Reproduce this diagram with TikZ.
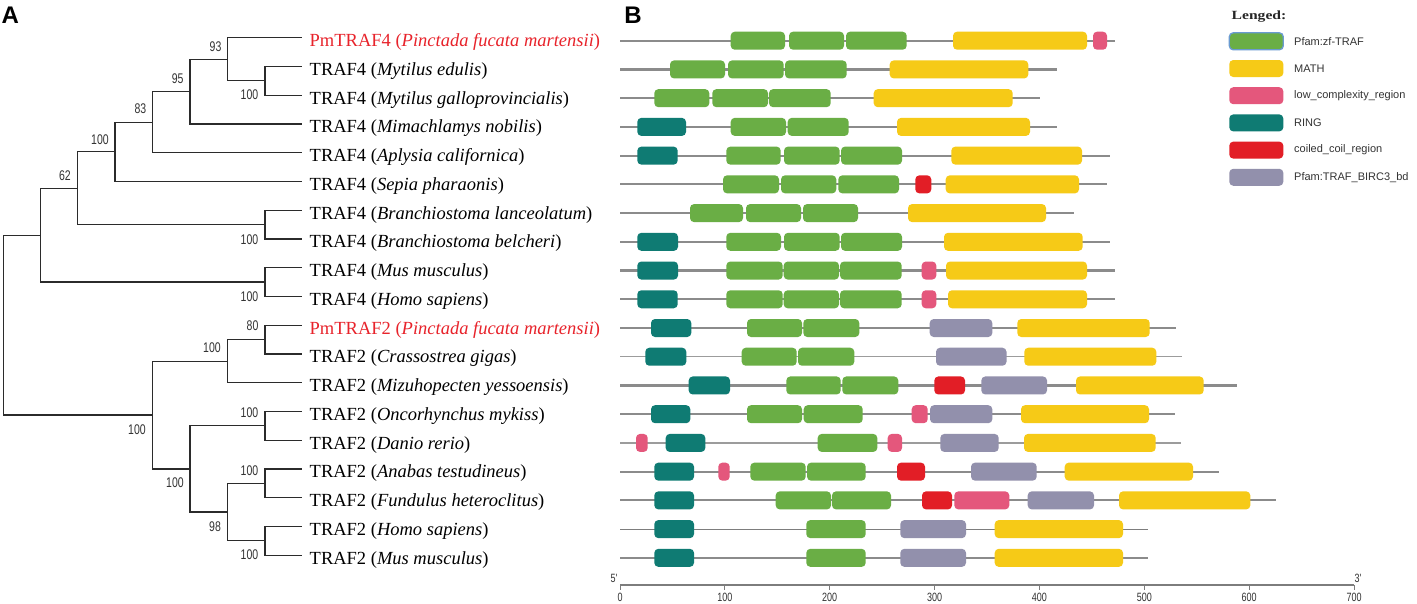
\documentclass[tikz,border=0pt]{standalone}
\usepackage{fontspec}
\setmainfont{Liberation Serif}
\newfontfamily\arialf{Liberation Sans}
\definecolor{zfc}{HTML}{6AAE45}
\definecolor{mathc}{HTML}{F6CA17}
\definecolor{lcrc}{HTML}{E4577C}
\definecolor{ringc}{HTML}{0F7B73}
\definecolor{ccc}{HTML}{E21E26}
\definecolor{birc}{HTML}{9290AC}
\definecolor{bbc}{HTML}{8B8B8B}
\definecolor{treec}{HTML}{2B2B2B}
\definecolor{labred}{HTML}{E8232B}
\definecolor{legblue}{HTML}{6A9BD1}
\definecolor{txtc}{HTML}{333333}
\newcommand\nar[1]{\scalebox{0.75}[1]{#1}}
\newcommand\dm[4]{\fill[#1,rounded corners=4pt] (#2,#4-9) rectangle (#3,#4+9);}
\newcommand\bbline[3][bbl]{\draw[#1] (620,#3) -- (#2,#3);}
\begin{document}
\begin{tikzpicture}[x=1pt,y=-1pt,
  tree/.style={draw=treec,line width=1.2pt},
  leaf/.style={anchor=west,inner xsep=7.5pt,inner ysep=0pt,text height=17.6pt,text depth=0pt,font=\fontsize{18.5}{20}\selectfont},
  supv/.style={inner sep=0pt,text=txtc,font=\arialf\fontsize{14}{14}\selectfont},
  bbl/.style={draw=bbc,line width=2.2pt},
  bbthin/.style={draw=bbc!85!white,line width=1.2pt},
  bbthind/.style={draw=bbc!90!black,line width=1.1pt},
  legbox/.style={minimum width=54pt,minimum height=17pt,rounded corners=4pt,inner sep=0pt},
  legtext/.style={anchor=west,inner sep=0pt,text=txtc,font=\arialf\fontsize{11}{11}\selectfont},
  axisl/.style={draw=bbc!90!black,line width=1.4pt},
  ticklab/.style={inner sep=0pt,text=txtc,font=\arialf\fontsize{12}{12}\selectfont},
  panel/.style={inner sep=0pt,font=\arialf\bfseries\fontsize{24}{24}\selectfont}
]
\useasboundingbox (0,0) rectangle (1417,603);
\fill[white] (0,0) rectangle (1417,603);

% panel labels
\node[panel] (pA) at (10.2,15.7) {A};
\node[panel] (pB) at (633,15) {B};

% leaves
\node[leaf] (l1) at (302,37.7) {\textcolor{labred}{PmTRAF4 (\textit{Pinctada fucata martensii})}};
\node[leaf] (l2) at (302,66.45) {TRAF4 (\textit{Mytilus edulis})};
\node[leaf] (l3) at (302,95.2) {TRAF4 (\textit{Mytilus galloprovincialis})};
\node[leaf] (l4) at (302,123.95) {TRAF4 (\textit{Mimachlamys nobilis})};
\node[leaf] (l5) at (302,152.7) {TRAF4 (\textit{Aplysia californica})};
\node[leaf] (l6) at (302,181.45) {TRAF4 (\textit{Sepia pharaonis})};
\node[leaf] (l7) at (302,210.2) {TRAF4 (\textit{Branchiostoma lanceolatum})};
\node[leaf] (l8) at (302,238.95) {TRAF4 (\textit{Branchiostoma belcheri})};
\node[leaf] (l9) at (302,267.7) {TRAF4 (\textit{Mus musculus})};
\node[leaf] (l10) at (302,296.45) {TRAF4 (\textit{Homo sapiens})};
\node[leaf] (l11) at (302,325.2) {\textcolor{labred}{PmTRAF2 (\textit{Pinctada fucata martensii})}};
\node[leaf] (l12) at (302,353.95) {TRAF2 (\textit{Crassostrea gigas})};
\node[leaf] (l13) at (302,382.7) {TRAF2 (\textit{Mizuhopecten yessoensis})};
\node[leaf] (l14) at (302,411.45) {TRAF2 (\textit{Oncorhynchus mykiss})};
\node[leaf] (l15) at (302,440.2) {TRAF2 (\textit{Danio rerio})};
\node[leaf] (l16) at (302,468.95) {TRAF2 (\textit{Anabas testudineus})};
\node[leaf] (l17) at (302,497.7) {TRAF2 (\textit{Fundulus heteroclitus})};
\node[leaf] (l18) at (302,526.45) {TRAF2 (\textit{Homo sapiens})};
\node[leaf] (l19) at (302,555.2) {TRAF2 (\textit{Mus musculus})};

% internal nodes
\coordinate (A) at (265,80.83);
\coordinate (B) at (227.7,59.26);
\coordinate (C) at (190,91.6);
\coordinate (D) at (152.3,122.15);
\coordinate (E) at (115,151.8);
\coordinate (F) at (265,224.58);
\coordinate (G) at (77.7,188.19);
\coordinate (H) at (265,282.08);
\coordinate (I) at (40.7,235.13);
\coordinate (J) at (265,339.58);
\coordinate (K) at (227.7,361.14);
\coordinate (L) at (265,425.83);
\coordinate (M) at (265,483.33);
\coordinate (N) at (265,540.83);
\coordinate (O) at (227.7,512.08);
\coordinate (P) at (190,468.95);
\coordinate (Q) at (152.3,415.05);
\coordinate (R) at (3.3,325.09);

\draw[tree] (R) |- (I);  \draw[tree] (R) |- (Q);
\draw[tree] (I) |- (G);  \draw[tree] (I) |- (H);
\draw[tree] (G) |- (E);  \draw[tree] (G) |- (F);
\draw[tree] (E) |- (D);  \draw[tree] (E) |- (l6.west);
\draw[tree] (D) |- (C);  \draw[tree] (D) |- (l5.west);
\draw[tree] (C) |- (B);  \draw[tree] (C) |- (l4.west);
\draw[tree] (B) |- (l1.west); \draw[tree] (B) |- (A);
\draw[tree] (A) |- (l2.west); \draw[tree] (A) |- (l3.west);
\draw[tree] (F) |- (l7.west); \draw[tree] (F) |- (l8.west);
\draw[tree] (H) |- (l9.west); \draw[tree] (H) |- (l10.west);
\draw[tree] (Q) |- (K);  \draw[tree] (Q) |- (P);
\draw[tree] (K) |- (J);  \draw[tree] (K) |- (l13.west);
\draw[tree] (J) |- (l11.west); \draw[tree] (J) |- (l12.west);
\draw[tree] (P) |- (L);  \draw[tree] (P) |- (O);
\draw[tree] (L) |- (l14.west); \draw[tree] (L) |- (l15.west);
\draw[tree] (O) |- (M);  \draw[tree] (O) |- (N);
\draw[tree] (M) |- (l16.west); \draw[tree] (M) |- (l17.west);
\draw[tree] (N) |- (l18.west); \draw[tree] (N) |- (l19.west);

% support values
\node[supv] (s1) at (215.5,47) {\nar{93}};
\node[supv] (s2) at (177.7,79) {\nar{95}};
\node[supv] (s3) at (140.5,108.7) {\nar{83}};
\node[supv] (s4) at (100,140) {\nar{100}};
\node[supv] (s5) at (65,175.3) {\nar{62}};
\node[supv] (s6) at (249.5,95) {\nar{100}};
\node[supv] (s7) at (249.5,240) {\nar{100}};
\node[supv] (s8) at (249.5,297) {\nar{100}};
\node[supv] (s9) at (252.5,326) {\nar{80}};
\node[supv] (s10) at (212,348) {\nar{100}};
\node[supv] (s11) at (249.5,412.8) {\nar{100}};
\node[supv] (s12) at (137,429.7) {\nar{100}};
\node[supv] (s13) at (249.5,470.3) {\nar{100}};
\node[supv] (s14) at (175,483) {\nar{100}};
\node[supv] (s15) at (215,527) {\nar{98}};
\node[supv] (s16) at (249.5,555) {\nar{100}};

% domain rows
% row 1
\bbline{1115}{40.7}
\dm{zfc}{730.7}{785}{40.7}\dm{zfc}{789}{844}{40.7}\dm{zfc}{846}{906.7}{40.7}
\dm{mathc}{953}{1087}{40.7}\dm{lcrc}{1093}{1107}{40.7}
% row 2
\bbline{1056.7}{69.43}
\dm{zfc}{670}{725}{69.43}\dm{zfc}{728}{783.7}{69.43}\dm{zfc}{785}{846.7}{69.43}
\dm{mathc}{889.7}{1028.3}{69.43}
% row 3
\bbline{1040}{98.16}
\dm{zfc}{654.3}{709.3}{98.16}\dm{zfc}{712.3}{768}{98.16}\dm{zfc}{769}{830.7}{98.16}
\dm{mathc}{873.7}{1012.7}{98.16}
% row 4
\bbline{1057}{126.89}
\dm{ringc}{637.3}{686}{126.89}
\dm{zfc}{730.7}{786}{126.89}\dm{zfc}{787.7}{848.7}{126.89}
\dm{mathc}{897}{1030}{126.89}
% row 5
\bbline{1109.7}{155.62}
\dm{ringc}{637.3}{677.7}{155.62}
\dm{zfc}{726.3}{780.7}{155.62}\dm{zfc}{784}{839.7}{155.62}\dm{zfc}{841}{902}{155.62}
\dm{mathc}{951.3}{1082}{155.62}
% row 6
\bbline{1106.7}{184.35}
\dm{zfc}{723}{779}{184.35}\dm{zfc}{781}{836.3}{184.35}\dm{zfc}{838.3}{899}{184.35}
\dm{ccc}{915.3}{931.3}{184.35}
\dm{mathc}{945.7}{1079}{184.35}
% row 7
\bbline{1074}{213.08}
\dm{zfc}{690}{743}{213.08}\dm{zfc}{746}{801}{213.08}\dm{zfc}{803}{858}{213.08}
\dm{mathc}{908}{1046}{213.08}
% row 8
\bbline{1110}{241.81}
\dm{ringc}{637.3}{678}{241.81}
\dm{zfc}{726.3}{781}{241.81}\dm{zfc}{784}{839.7}{241.81}\dm{zfc}{841}{902}{241.81}
\dm{mathc}{944}{1082.7}{241.81}
% row 9
\bbline{1115}{270.54}
\dm{ringc}{637.3}{678}{270.54}
\dm{zfc}{726.3}{782.7}{270.54}\dm{zfc}{783.7}{839}{270.54}\dm{zfc}{840}{901.7}{270.54}
\dm{lcrc}{921.7}{936.3}{270.54}
\dm{mathc}{946}{1087}{270.54}
% row 10
\bbline{1115}{299.27}
\dm{ringc}{637.3}{677.7}{299.27}
\dm{zfc}{726.3}{782.7}{299.27}\dm{zfc}{783.7}{839}{299.27}\dm{zfc}{840}{901.7}{299.27}
\dm{lcrc}{921.7}{936.3}{299.27}
\dm{mathc}{948}{1087}{299.27}
% row 11
\bbline{1175.7}{328}
\dm{ringc}{651}{691.3}{328}
\dm{zfc}{747}{802}{328}\dm{zfc}{803.3}{859.3}{328}
\dm{birc}{929.7}{992.3}{328}
\dm{mathc}{1017.3}{1149.7}{328}
% row 12
\bbline[bbthin]{1182.3}{356.73}
\dm{ringc}{645.3}{686.3}{356.73}
\dm{zfc}{741.7}{796.7}{356.73}\dm{zfc}{798}{854.3}{356.73}
\dm{birc}{936}{1006.5}{356.73}
\dm{mathc}{1024.3}{1156.3}{356.73}
% row 13
\bbline{1236.7}{385.46}
\dm{ringc}{688.7}{730}{385.46}
\dm{zfc}{786.3}{840.7}{385.46}\dm{zfc}{842.3}{898.3}{385.46}
\dm{ccc}{934.3}{965}{385.46}
\dm{birc}{981.3}{1047}{385.46}
\dm{mathc}{1076}{1203.7}{385.46}
% row 14
\bbline{1174.7}{414.19}
\dm{ringc}{651}{690.3}{414.19}
\dm{zfc}{747}{802}{414.19}\dm{zfc}{803.7}{862.7}{414.19}
\dm{lcrc}{911.7}{927.7}{414.19}
\dm{birc}{930}{992.3}{414.19}
\dm{mathc}{1021}{1149}{414.19}
% row 15
\bbline[bbthin]{1180.7}{442.92}
\dm{lcrc}{636}{647.7}{442.92}
\dm{ringc}{665.7}{705.3}{442.92}
\dm{zfc}{817.7}{877.3}{442.92}
\dm{lcrc}{887.7}{902}{442.92}
\dm{birc}{940.3}{998.7}{442.92}
\dm{mathc}{1024}{1155.7}{442.92}
% row 16
\bbline{1218.7}{471.65}
\dm{ringc}{654.3}{694}{471.65}
\dm{lcrc}{718.3}{729.7}{471.65}
\dm{zfc}{750.3}{805.7}{471.65}\dm{zfc}{807}{865.7}{471.65}
\dm{ccc}{897}{925}{471.65}
\dm{birc}{971}{1036.7}{471.65}
\dm{mathc}{1064.7}{1193}{471.65}
% row 17
\bbline{1275.7}{500.38}
\dm{ringc}{654.3}{694}{500.38}
\dm{zfc}{775.7}{831}{500.38}\dm{zfc}{832}{891}{500.38}
\dm{ccc}{922}{952}{500.38}
\dm{lcrc}{954.3}{1009.3}{500.38}
\dm{birc}{1027.7}{1094}{500.38}
\dm{mathc}{1119}{1250.3}{500.38}
% row 18
\bbline[bbthind]{1148.3}{529.11}
\dm{ringc}{654.3}{694}{529.11}
\dm{zfc}{806.3}{865.7}{529.11}
\dm{birc}{900.3}{966}{529.11}
\dm{mathc}{994.7}{1123}{529.11}
% row 19
\bbline{1148.3}{557.84}
\dm{ringc}{654.3}{694}{557.84}
\dm{zfc}{806.3}{865.7}{557.84}
\dm{birc}{900.3}{966}{557.84}
\dm{mathc}{994.7}{1123}{557.84}

% axis
\coordinate (ax0) at (620,585);
\coordinate (ax7) at (1354,585);
\draw[axisl] (ax0) -- (ax7);
\foreach \i in {0,...,7}{
  \draw[axisl,line width=0.9pt] (620+\i*104.857,585) -- ++(0,5);
  \node[ticklab] (tk\i) at (620+\i*104.857,597) {\nar{\the\numexpr\i*100\relax}};
}
\node[ticklab] (five) at (614,578) {\nar{5'}};
\node[ticklab] (three) at (1358,578) {\nar{3'}};

% legend
\node[inner sep=0pt,font=\bfseries\fontsize{12.5}{12.5}\selectfont,text=black!85] (leg) at (1259,17) {\scalebox{1.25}[1]{Lenged:}};
\node[legbox,fill=zfc,draw=legblue,line width=1.3pt] (k1) at (1256.3,41.3) {};
\node[legbox,fill=mathc] (k2) at (1256.3,68.5) {};
\node[legbox,fill=lcrc] (k3) at (1256.3,95.7) {};
\node[legbox,fill=ringc] (k4) at (1256.3,122.9) {};
\node[legbox,fill=ccc] (k5) at (1256.3,150.1) {};
\node[legbox,fill=birc] (k6) at (1256.3,177.3) {};
\node[legtext] (t1) at (1294,41.3) {Pfam:zf-TRAF};
\node[legtext] (t2) at (1294,68.5) {MATH};
\node[legtext] (t3) at (1294,95.7) {low\_complexity\_region};
\node[legtext] (t4) at (1294,122.9) {RING};
\node[legtext] (t5) at (1294,150.1) {coiled\_coil\_region};
\node[legtext] (t6) at (1294,177.3) {Pfam:TRAF\_BIRC3\_bd};
\end{tikzpicture}
\end{document}
